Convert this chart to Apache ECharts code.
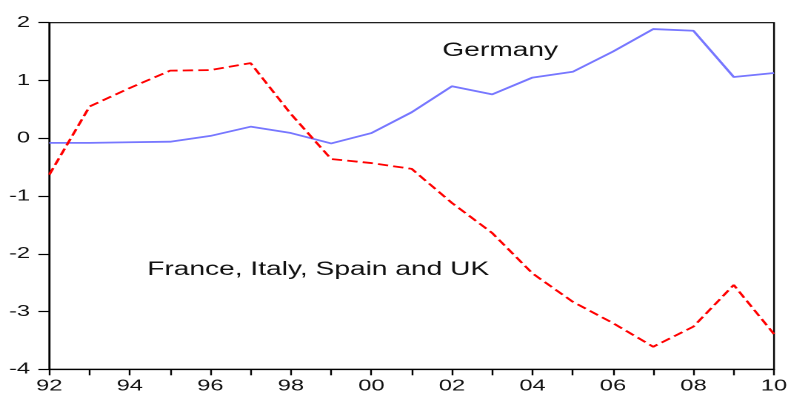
<!DOCTYPE html>
<html>
<head>
<meta charset="utf-8">
<script src="https://cdn.jsdelivr.net/npm/echarts@6/dist/echarts.min.js"></script>
<style>
  html, body { margin: 0; padding: 0; background: #fff; overflow: hidden; }
  /* the chart is laid out narrow and widened horizontally, like the original wide export */
  #chart { width: 532px; height: 394px; transform: scaleX(1.4812); transform-origin: 0 0; }
</style>
</head>
<body>
<div id="chart"></div>
<script>
// Years 1992..2010, shown as two-digit tick labels
const years = ['92','93','94','95','96','97','98','99','00','01','02','03','04','05','06','07','08','09','10'];

// Germany
const germany = [-0.08, -0.08, -0.07, -0.06, 0.04, 0.20, 0.09, -0.09, 0.09, 0.45, 0.90, 0.76, 1.05, 1.15, 1.50, 1.89, 1.86, 1.06, 1.13];

// France, Italy, Spain and UK
const periphery = [-0.63, 0.55, 0.87, 1.17, 1.18, 1.30, 0.42, -0.36, -0.43, -0.53, -1.12, -1.64, -2.34, -2.83, -3.20, -3.61, -3.26, -2.54, -3.39];

const yMin = -4, yMax = 2, yStep = 1;

const FONT = '"Liberation Sans", Arial, sans-serif';
const W = 532, H = 394;

const chart = echarts.init(document.getElementById('chart'), null, {
  renderer: 'canvas', devicePixelRatio: 2, width: W, height: H
});

chart.setOption({
  backgroundColor: '#ffffff',
  animation: false,
  grid: {
    left: 33.3, right: 9.45, top: 22.7, bottom: 24.7,
    show: true, borderColor: '#000', borderWidth: 1.2,
    containLabel: false, outerBoundsMode: 'none'
  },
  xAxis: {
    type: 'category',
    data: years,
    boundaryGap: false,
    axisLine: { show: true, onZero: false, lineStyle: { color: '#000', width: 1.2 } },
    axisTick: { show: true, interval: 0, length: 6, lineStyle: { color: '#000', width: 1.2 } },
    axisLabel: { interval: 1, margin: 9, color: '#111', fontSize: 16, fontFamily: FONT },
    splitLine: { show: false }
  },
  yAxis: {
    type: 'value',
    min: yMin, max: yMax, interval: yStep,
    axisLine: { show: true, onZero: false, lineStyle: { color: '#000', width: 1.2 } },
    axisTick: { show: true, length: 7.4, lineStyle: { color: '#000', width: 1.2 } },
    axisLabel: { margin: 13, color: '#111', fontSize: 16, fontFamily: FONT },
    splitLine: { show: false }
  },
  series: [
    {
      name: 'Germany',
      type: 'line',
      data: germany,
      symbol: 'none',
      lineStyle: { color: '#7777ff', width: 1.8, type: 'solid' },
      z: 3
    },
    {
      name: 'France, Italy, Spain and UK',
      type: 'line',
      data: periphery,
      symbol: 'none',
      lineStyle: { color: '#ff0000', width: 1.8, type: [7, 3.5] },
      z: 4
    }
  ]
});

// Pixel position of a fractional category index (between two years)
function at(idx, value) {
  const i0 = Math.floor(idx), i1 = Math.min(i0 + 1, years.length - 1);
  const p0 = chart.convertToPixel({ gridIndex: 0 }, [i0, value]);
  const p1 = chart.convertToPixel({ gridIndex: 0 }, [i1, value]);
  const t = idx - i0;
  return [p0[0] + (p1[0] - p0[0]) * t, p0[1]];
}

// Series annotations
const gPos = at(11.2, 1.51);
const fPos = at(2.43, -2.28);
chart.setOption({
  graphic: [
    {
      type: 'text', x: gPos[0], y: gPos[1],
      style: { text: 'Germany', fill: '#111', font: '19px ' + FONT, align: 'center', verticalAlign: 'middle' }
    },
    {
      type: 'text', x: fPos[0], y: fPos[1],
      style: { text: 'France, Italy, Spain and UK', fill: '#111', font: '19px ' + FONT, align: 'left', verticalAlign: 'middle' }
    }
  ]
});
</script>
</body>
</html>
